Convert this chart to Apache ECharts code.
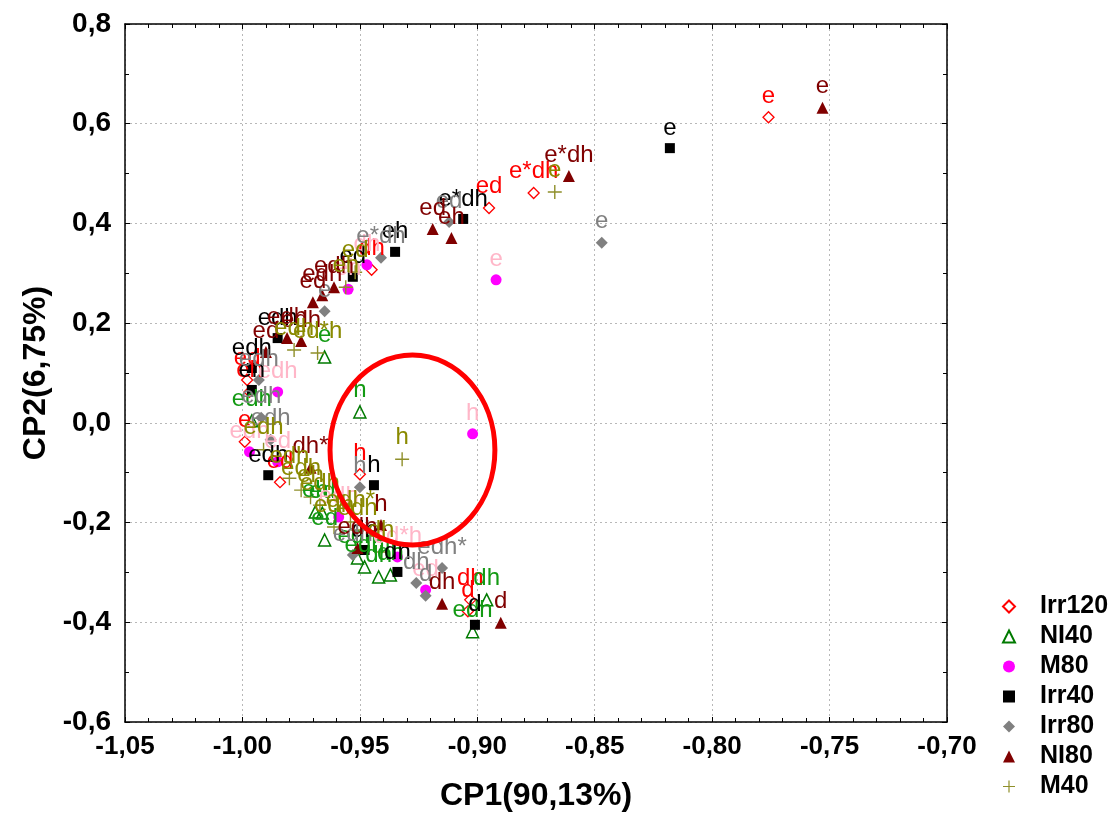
<!DOCTYPE html>
<html>
<head>
<meta charset="utf-8">
<script src="https://cdn.jsdelivr.net/npm/echarts@6/dist/echarts.min.js"></script>
<style>html,body{margin:0;padding:0;background:#fff}#c{width:1112px;height:822px}</style>
</head>
<body>
<div id="c"></div>
<script>
// ---- data: [CP1, CP2, label] ----
const seriesNames = ['Irr120', 'NI40', 'M80', 'Irr40', 'Irr80', 'NI80', 'M40'];
const xTicks = [-1.05, -1.00, -0.95, -0.90, -0.85, -0.80, -0.75, -0.70];
const yTicks = [-0.6, -0.4, -0.2, 0.0, 0.2, 0.4, 0.6, 0.8];

const irr120 = [
  [-0.776, 0.613, 'e'], [-0.876, 0.461, 'e*dh'], [-0.895, 0.431, 'ed'], [-0.945, 0.307, 'dh'],
  [-0.998, 0.086, 'ed'], [-0.997, 0.062, 'eh'], [-0.999, -0.038, 'e'], [-0.984, -0.119, 'ed'],
  [-0.950, -0.103, 'h'], [-0.903, -0.355, 'dh'], [-0.904, -0.378, 'd']
];
const ni40 = [
  [-0.950, 0.022, 'h'], [-0.965, 0.132, 'e'], [-0.996, 0.004, 'edh'], [-0.969, -0.179, 'eh'],
  [-0.966, -0.181, 'ed'], [-0.965, -0.235, 'ed'], [-0.951, -0.271, 'edh'], [-0.948, -0.289, 'edh'],
  [-0.942, -0.309, 'dh'], [-0.937, -0.305, 'dh'], [-0.896, -0.355, 'dh'], [-0.902, -0.419, 'edh']
];
const m80 = [
  [-0.892, 0.287, 'e'], [-0.902, -0.022, 'h'], [-0.947, 0.317, 'dh'], [-0.955, 0.268, 'eh'],
  [-0.985, 0.062, 'edh'], [-0.997, -0.058, 'edh'], [-0.985, -0.078, 'ed'], [-0.959, -0.189, 'edh'],
  [-0.934, -0.269, 'ed*h'], [-0.922, -0.335, 'ed']
];
const irr40 = [
  [-0.818, 0.551, 'e'], [-0.906, 0.409, 'e*dh'], [-0.935, 0.343, 'eh'], [-0.953, 0.293, 'ed'],
  [-0.985, 0.170, 'edh'], [-0.996, 0.110, 'edh'], [-0.996, 0.066, 'eh'], [-0.989, -0.105, 'edh'],
  [-0.944, -0.125, 'h'], [-0.948, -0.255, 'dh'], [-0.934, -0.299, 'dh'], [-0.901, -0.405, 'd']
];
const irr80 = [
  [-0.847, 0.361, 'e'], [-0.912, 0.403, 'ed'], [-0.941, 0.331, 'e*dh'], [-0.965, 0.224, 'e'],
  [-0.993, 0.086, 'edh'], [-0.992, 0.010, 'edh'], [-0.988, -0.034, 'edh'], [-0.950, -0.129, 'h'],
  [-0.953, -0.265, 'edh'], [-0.915, -0.291, 'edh*'], [-0.926, -0.321, 'dh'], [-0.922, -0.347, 'd']
];
const ni80 = [
  [-0.753, 0.632, 'e'], [-0.861, 0.495, 'e*dh'], [-0.919, 0.389, 'ed'], [-0.911, 0.371, 'eh'],
  [-0.961, 0.272, 'edh'], [-0.966, 0.256, 'edh'], [-0.970, 0.242, 'ed'], [-0.981, 0.170, 'edh'],
  [-0.975, 0.164, 'edh'], [-0.990, 0.142, 'ed'], [-0.971, -0.090, 'dh*'], [-0.941, -0.205, 'h'],
  [-0.951, -0.251, 'edh'], [-0.915, -0.363, 'dh'], [-0.890, -0.401, 'd']
];
const m40 = [
  [-0.867, 0.463, 'e'], [-0.932, -0.073, 'h'], [-0.952, 0.302, 'ed'], [-0.956, 0.272, 'eh'],
  [-0.978, 0.146, 'edh'], [-0.968, 0.140, 'ed*h'], [-0.991, -0.054, 'edh'], [-0.980, -0.111, 'edh'],
  [-0.975, -0.135, 'edh'], [-0.971, -0.149, 'eh'], [-0.967, -0.165, 'edh'], [-0.961, -0.209, 'edh'],
  [-0.954, -0.199, 'edh*'], [-0.951, -0.215, 'edh'], [-0.941, -0.259, 'dh']
];
// highlighted region (ellipse) in data units: centre and radii
const ellipseC = [-0.9276, -0.0544];
const ellipseR = [0.0351, 0.1905];

const FONT = 'Arial, "Liberation Sans", sans-serif';
const plusPath = 'path://M5.4,0h1.2v12h-1.2z M0,5.4h12v1.2h-12z';

function mk(name, data, symbol, size, itemStyle, labelColor) {
  return {
    name, type: 'scatter', data, symbol, symbolSize: size,
    encode: { x: 0, y: 1 },
    itemStyle: Object.assign({ opacity: 1 }, itemStyle),
    label: {
      show: true, position: 'top', distance: 3,
      formatter: p => p.value[2],
      fontFamily: FONT, fontSize: 24, color: labelColor
    },
    emphasis: { disabled: true }
  };
}

const fmtX = v => v.toFixed(2).replace('.', ',');
const fmtY = v => v.toFixed(1).replace('.', ',');

const chart = echarts.init(document.getElementById('c'));
const axisLine = { show: true, onZero: false, lineStyle: { color: '#000', width: 1.5 } };
const splitLine = { show: true, lineStyle: { color: '#b8b8b8', type: [2, 3], width: 1 } };

chart.setOption({
  animation: false,
  backgroundColor: '#fff',
  grid: { left: 125, right: 165, top: 24, bottom: 100 },
  xAxis: [
    {
      type: 'value', min: xTicks[0], max: xTicks[xTicks.length - 1], interval: 0.05,
      position: 'bottom', axisLine,
      axisTick: { show: true, inside: true, length: 5, lineStyle: { color: '#000' } },
      minorTick: { show: true, splitNumber: 5, length: 4, lineStyle: { color: '#000' } },
      axisLabel: { formatter: fmtX, fontFamily: FONT, fontSize: 26, fontWeight: 'bold', color: '#000', margin: 12 },
      splitLine,
      name: 'CP1(90,13%)', nameLocation: 'middle', nameGap: 58,
      nameTextStyle: { fontFamily: FONT, fontSize: 32, fontWeight: 'bold', color: '#000' }
    },
    {
      type: 'value', min: xTicks[0], max: xTicks[xTicks.length - 1], interval: 0.05,
      position: 'top', axisLine,
      axisTick: { show: true, inside: true, length: 5, lineStyle: { color: '#000' } },
      minorTick: { show: true, splitNumber: 5, length: 4, lineStyle: { color: '#000' } },
      axisLabel: { show: false }, splitLine: { show: false }
    }
  ],
  yAxis: [
    {
      type: 'value', min: yTicks[0], max: yTicks[yTicks.length - 1], interval: 0.2,
      position: 'left', axisLine,
      axisTick: { show: true, inside: true, length: 5, lineStyle: { color: '#000' } },
      minorTick: { show: true, splitNumber: 2, length: 4, lineStyle: { color: '#000' } },
      axisLabel: { formatter: fmtY, fontFamily: FONT, fontSize: 28, fontWeight: 'bold', color: '#000', margin: 14 },
      splitLine,
      name: 'CP2(6,75%)', nameLocation: 'middle', nameGap: 72, nameRotate: 90,
      nameTextStyle: { fontFamily: FONT, fontSize: 32, fontWeight: 'bold', color: '#000' }
    },
    {
      type: 'value', min: yTicks[0], max: yTicks[yTicks.length - 1], interval: 0.2,
      position: 'right', axisLine,
      axisTick: { show: true, inside: true, length: 5, lineStyle: { color: '#000' } },
      minorTick: { show: true, splitNumber: 2, length: 4, lineStyle: { color: '#000' } },
      axisLabel: { show: false }, splitLine: { show: false }
    }
  ],
  legend: {
    orient: 'vertical', left: 997, top: 589,
    itemWidth: 12, itemHeight: 12, itemGap: 5,
    data: seriesNames,
    textStyle: { fontFamily: FONT, fontSize: 25, fontWeight: 'bold', color: '#000', lineHeight: 25, padding: [0, 0, 0, 20] }
  },
  series: [
    mk('Irr120', irr120, 'diamond', 11, { color: 'rgba(255,255,255,0)', borderColor: '#ff0000', borderWidth: 1.3 }, '#ff0000'),
    mk('NI40', ni40, 'triangle', 12, { color: 'rgba(255,255,255,0)', borderColor: '#007a00', borderWidth: 1.5 }, '#139a13'),
    mk('M80', m80, 'circle', 11, { color: '#ff00ff' }, '#ffb6c8'),
    mk('Irr40', irr40, 'rect', 10, { color: '#000000' }, '#000000'),
    mk('Irr80', irr80, 'diamond', 12, { color: '#808080' }, '#808080'),
    mk('NI80', ni80, 'triangle', 12, { color: '#800000' }, '#800000'),
    mk('M40', m40, plusPath, 14, { color: '#8f8f2a' }, '#8a8a00')
  ]
});

const c = chart.convertToPixel({ xAxisIndex: 0, yAxisIndex: 0 }, ellipseC);
const e = chart.convertToPixel({ xAxisIndex: 0, yAxisIndex: 0 }, [ellipseC[0] + ellipseR[0], ellipseC[1] + ellipseR[1]]);
chart.setOption({
  graphic: [{
    type: 'ellipse', z: 100,
    shape: { cx: c[0], cy: c[1], rx: Math.abs(e[0] - c[0]), ry: Math.abs(e[1] - c[1]) },
    style: { fill: 'none', stroke: '#ff0000', lineWidth: 5 }
  }]
});
</script>
</body>
</html>
